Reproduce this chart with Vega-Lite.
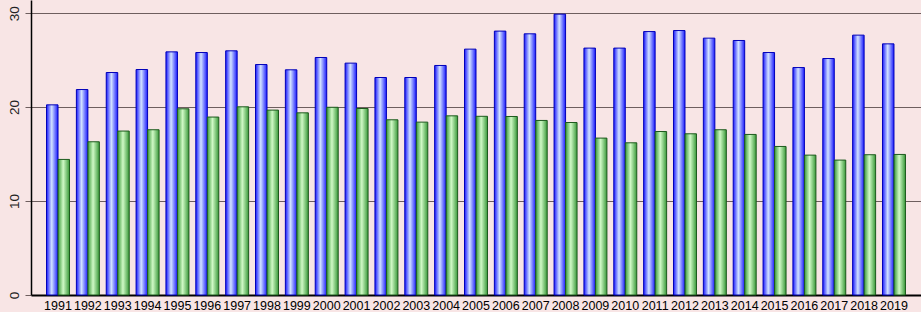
{
  "$schema": "https://vega.github.io/schema/vega-lite/v6.json",
  "width": 890,
  "height": 295,
  "autosize": "none",
  "padding": {"left": 31, "top": 0, "right": 0, "bottom": 17},
  "background": "#f8e5e5",
  "config": {
    "view": {"stroke": null},
    "font": "Liberation Sans"
  },
  "data": {
    "values": [
      {"year": "1991", "series": "a", "value": 20.24}, {"year": "1991", "series": "b", "value": 14.43},
      {"year": "1992", "series": "a", "value": 21.87}, {"year": "1992", "series": "b", "value": 16.31},
      {"year": "1993", "series": "a", "value": 23.68}, {"year": "1993", "series": "b", "value": 17.45},
      {"year": "1994", "series": "a", "value": 24.0}, {"year": "1994", "series": "b", "value": 17.59},
      {"year": "1995", "series": "a", "value": 25.88}, {"year": "1995", "series": "b", "value": 19.82},
      {"year": "1996", "series": "a", "value": 25.81}, {"year": "1996", "series": "b", "value": 18.94},
      {"year": "1997", "series": "a", "value": 25.99}, {"year": "1997", "series": "b", "value": 20.03},
      {"year": "1998", "series": "a", "value": 24.53}, {"year": "1998", "series": "b", "value": 19.68},
      {"year": "1999", "series": "a", "value": 23.97}, {"year": "1999", "series": "b", "value": 19.39},
      {"year": "2000", "series": "a", "value": 25.28}, {"year": "2000", "series": "b", "value": 19.98},
      {"year": "2001", "series": "a", "value": 24.68}, {"year": "2001", "series": "b", "value": 19.85},
      {"year": "2002", "series": "a", "value": 23.15}, {"year": "2002", "series": "b", "value": 18.65},
      {"year": "2003", "series": "a", "value": 23.15}, {"year": "2003", "series": "b", "value": 18.4},
      {"year": "2004", "series": "a", "value": 24.43}, {"year": "2004", "series": "b", "value": 19.07},
      {"year": "2005", "series": "a", "value": 26.17}, {"year": "2005", "series": "b", "value": 19.02},
      {"year": "2006", "series": "a", "value": 28.09}, {"year": "2006", "series": "b", "value": 19.0},
      {"year": "2007", "series": "a", "value": 27.8}, {"year": "2007", "series": "b", "value": 18.58},
      {"year": "2008", "series": "a", "value": 29.89}, {"year": "2008", "series": "b", "value": 18.36},
      {"year": "2009", "series": "a", "value": 26.28}, {"year": "2009", "series": "b", "value": 16.7},
      {"year": "2010", "series": "a", "value": 26.28}, {"year": "2010", "series": "b", "value": 16.2},
      {"year": "2011", "series": "a", "value": 28.04}, {"year": "2011", "series": "b", "value": 17.4},
      {"year": "2012", "series": "a", "value": 28.15}, {"year": "2012", "series": "b", "value": 17.16},
      {"year": "2013", "series": "a", "value": 27.34}, {"year": "2013", "series": "b", "value": 17.59},
      {"year": "2014", "series": "a", "value": 27.09}, {"year": "2014", "series": "b", "value": 17.09},
      {"year": "2015", "series": "a", "value": 25.81}, {"year": "2015", "series": "b", "value": 15.81},
      {"year": "2016", "series": "a", "value": 24.21}, {"year": "2016", "series": "b", "value": 14.89},
      {"year": "2017", "series": "a", "value": 25.17}, {"year": "2017", "series": "b", "value": 14.36},
      {"year": "2018", "series": "a", "value": 27.66}, {"year": "2018", "series": "b", "value": 14.93},
      {"year": "2019", "series": "a", "value": 26.73}, {"year": "2019", "series": "b", "value": 14.96}
    ]
  },
  "encoding": {
    "x": {
      "field": "year", "type": "nominal",
      "scale": {"paddingInner": 0.23, "paddingOuter": 0.52},
      "axis": {
        "title": null, "labelAngle": 0, "ticks": false,
        "labelFontSize": 12.5, "labelColor": "#000", "labelPadding": 4,
        "domainColor": "#000", "domainWidth": 2, "grid": false
      }
    },
    "xOffset": {"field": "series", "type": "nominal", "scale": {"domain": ["a", "b"], "paddingInner": 0}},
    "y": {
      "field": "value", "type": "quantitative",
      "scale": {"domain": [0, 31.4], "nice": false},
      "axis": {
        "title": null, "values": [0, 10, 20, 30],
        "labelAngle": 270, "labelAlign": "center", "labelBaseline": "middle",
        "labelPadding": 11, "labelFontSize": 13.5, "labelColor": "#222",
        "tickSize": 6, "tickColor": "#6e5e5e",
        "domainColor": "#000", "domainWidth": 1.5,
        "grid": true, "gridColor": "#6e5e5e", "gridOpacity": 1, "gridWidth": 1
      }
    }
  },
  "layer": [
    {
      "transform": [{"filter": "datum.series === 'a'"}],
      "mark": {
        "type": "bar",
        "fill": {"gradient": "linear", "x1": 0, "x2": 1, "y1": 0, "y2": 0,
          "stops": [{"offset": 0, "color": "#1a1aff"}, {"offset": 0.45, "color": "#d2e2ff"}, {"offset": 1, "color": "#1a1aff"}]},
        "stroke": "#0000b8", "strokeWidth": 1
      }
    },
    {
      "transform": [{"filter": "datum.series === 'b'"}],
      "mark": {
        "type": "bar",
        "fill": {"gradient": "linear", "x1": 0, "x2": 1, "y1": 0, "y2": 0,
          "stops": [{"offset": 0, "color": "#389838"}, {"offset": 0.45, "color": "#d0f9c6"}, {"offset": 1, "color": "#389838"}]},
        "stroke": "#1d5a1d", "strokeWidth": 1
      }
    }
  ]
}
